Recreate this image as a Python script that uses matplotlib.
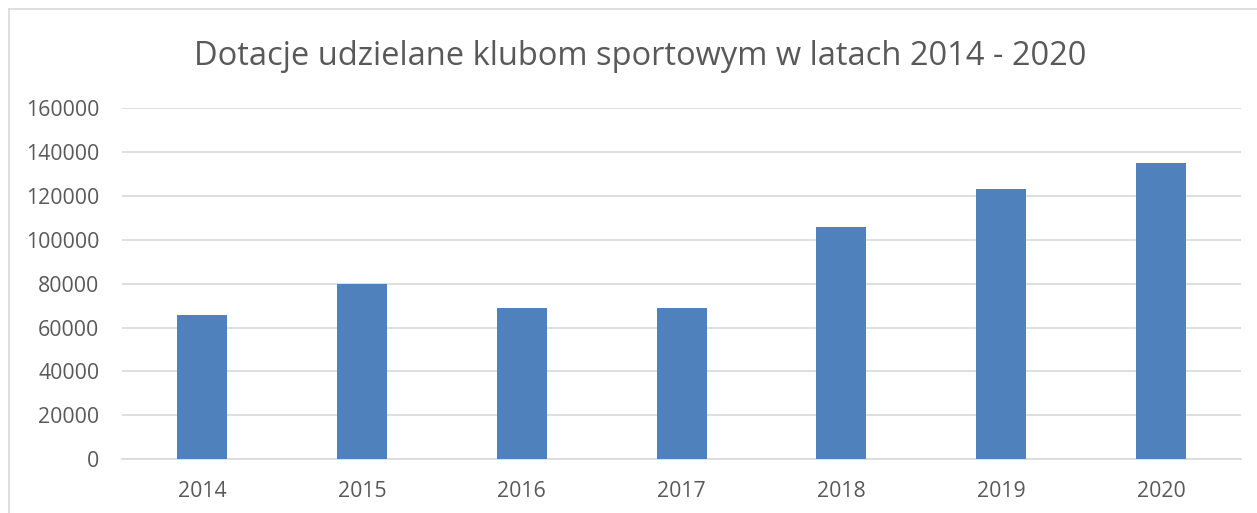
import numpy as np
import matplotlib.pyplot as plt
from matplotlib.lines import Line2D

# Dane
lata = ['2014', '2015', '2016', '2017', '2018', '2019', '2020']
dotacje = [65600, 79900, 69100, 68800, 105700, 123300, 135100]
y_ticks = [0, 20000, 40000, 60000, 80000, 100000, 120000, 140000, 160000]

plt.rcParams['font.family'] = ['Open Sans', 'DejaVu Sans']
szary = '#595959'

fig = plt.figure(figsize=(12.57, 5.13), dpi=100)
ax = fig.add_axes([0.0971, 0.1047, 0.8902, 0.6848])

x = np.arange(len(lata))
ax.bar(x, dotacje, width=0.3125, color='#4f81bd', zorder=3)

ax.set_xlim(-0.5, len(lata) - 0.5)
ax.set_ylim(0, 160000)
ax.set_yticks(y_ticks)
ax.set_yticklabels([str(v) for v in y_ticks])
ax.set_xticks(x)
ax.set_xticklabels(lata)
ax.yaxis.grid(True, color='#d9d9d9', linewidth=1.2, zorder=0)
ax.tick_params(axis='both', length=0, labelsize=15.3, colors=szary)
ax.tick_params(axis='y', pad=16.5)
ax.tick_params(axis='x', pad=15.5)
for side in ['top', 'right', 'left']:
    ax.spines[side].set_visible(False)
ax.spines['bottom'].set_color('#d9d9d9')
ax.spines['bottom'].set_linewidth(1.2)

fig.text(0.509, 1 - 65 / 513, 'Dotacje udzielane klubom sportowym w latach 2014 - 2020',
         ha='center', va='baseline', fontsize=23.5, color=szary)

# ramka wykresu
fig.add_artist(Line2D([9 / 1257, 9 / 1257], [0, 1 - 9 / 513],
                      transform=fig.transFigure, color='#d9d9d9', lw=1.2))
fig.add_artist(Line2D([9 / 1257, 1], [1 - 9 / 513, 1 - 9 / 513],
                      transform=fig.transFigure, color='#d9d9d9', lw=1.2))

fig.savefig('out.png', dpi=100)
